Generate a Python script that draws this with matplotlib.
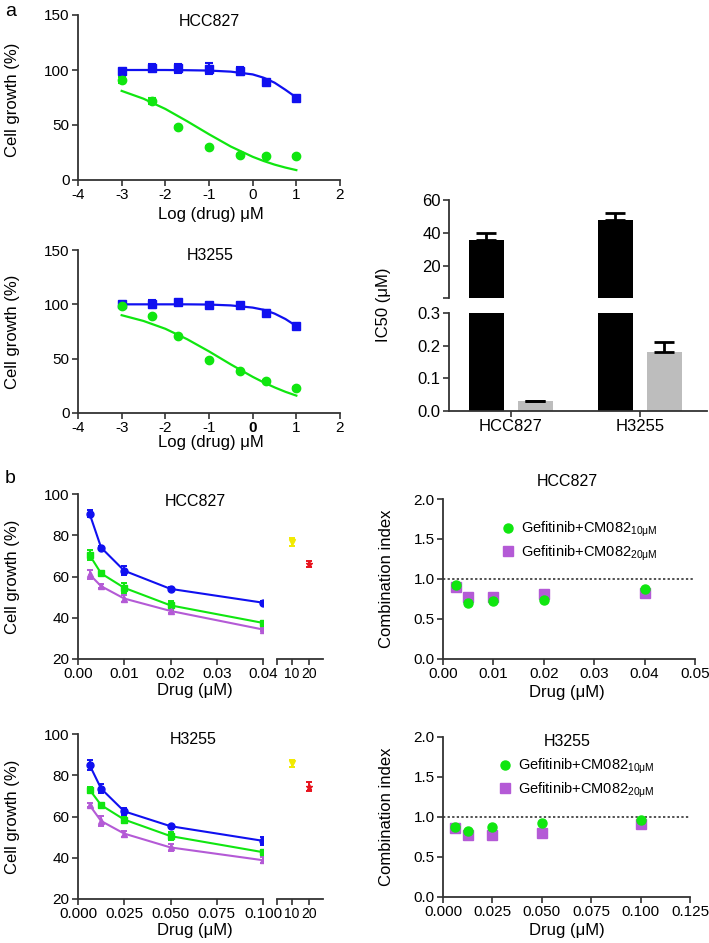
import matplotlib
matplotlib.use("Agg")
import matplotlib.pyplot as plt
import numpy as np

plt.rcParams['font.family'] = ['Liberation Sans', 'DejaVu Sans']
plt.rcParams['mathtext.fontset'] = 'custom'
plt.rcParams['mathtext.rm'] = 'Liberation Sans'
plt.rcParams['mathtext.it'] = 'Liberation Sans'
plt.rcParams['axes.unicode_minus'] = False

# ---------------- data ----------------
# Panel a: dose response (log10 drug, µM)
log_dose = [-3, -2.3, -1.7, -1, -0.3, 0.3, 1]
hcc_blue = [99.5, 102, 101.5, 101, 99, 89.5, 74.4]
hcc_blue_err = [1.5, 3, 4, 5, 3.5, 1.5, 1]
hcc_green = [91, 72, 48, 30, 22.7, 22, 21.5]
hcc_green_err = [3, 2.5, 1, 1, 1, 1, 1]
h3_blue = [100, 100.5, 102, 99.5, 99.5, 92, 80]
h3_blue_err = [1, 3.5, 1.5, 1, 1, 3, 1.5]
h3_green = [98.5, 89, 70.5, 49, 39, 29.5, 23]
h3_green_err = [1, 1, 1, 1, 1, 1, 1]

# fitted curves
curve_x = [-3, -2.5, -2, -1.5, -1, -0.5, 0, 0.25, 0.5, 0.75, 1]
hcc_blue_fit = [100, 100, 100, 99.8, 99.5, 98.5, 96, 93, 88.5, 82, 75]
hcc_green_fit = [81, 73.9, 64.6, 53.4, 41.6, 30.4, 21.1, 17.3, 14, 11.3, 9]
h3_blue_fit = [100, 100, 100, 100, 99.8, 99, 97, 95, 91.5, 86.5, 80]
h3_green_fit = [90, 84.7, 77.5, 67.9, 56.7, 44.7, 33.3, 28.2, 23.6, 19.5, 16]

# IC50 bars
ic50_cells = ['HCC827', 'H3255']
ic50_black = [36, 48]
ic50_black_err = [4, 4]
ic50_gray = [0.030, 0.182]
ic50_gray_err = [0.002, 0.028]

# Panel b: HCC827 combination
hcc_dose = [0.0025, 0.005, 0.01, 0.02, 0.04]
hcc_gef = [90.5, 74, 62.8, 54, 47.3]
hcc_gef_err = [1.8, 0.8, 2.2, 0.8, 0.8]
hcc_c10 = [70.4, 61.5, 54.5, 46, 37.5]
hcc_c10_err = [2.5, 1, 2.5, 2, 1]
hcc_c20 = [61, 55.3, 49.3, 43.3, 34.3]
hcc_c20_err = [2, 1, 1.5, 1, 0.8]
cm_dose = [10, 20]
hcc_cm = [76.7, 66]
hcc_cm_err = [2, 1.5]

# Panel b: H3255 combination
h3_dose = [0.00625, 0.0125, 0.025, 0.05, 0.1]
h3_gef = [85, 73.5, 62.5, 55.3, 48.2]
h3_gef_err = [2.5, 2.2, 1.8, 0.8, 1.8]
h3_c10 = [73, 65.5, 58.5, 50.5, 42.7]
h3_c10_err = [1.5, 1, 1.5, 1.8, 1]
h3_c20 = [65.5, 57.8, 51.7, 45, 38.8]
h3_c20_err = [1, 2.3, 1.5, 1.8, 1.5]
h3_cm = [85.7, 74.5]
h3_cm_err = [1.8, 2]

# Combination index
hcc_ci10 = [0.93, 0.70, 0.72, 0.74, 0.88]
hcc_ci20 = [0.90, 0.77, 0.77, 0.81, 0.83]
h3_ci10 = [0.87, 0.83, 0.87, 0.92, 0.96]
h3_ci20 = [0.86, 0.77, 0.77, 0.80, 0.91]

BLUE = '#1010f0'
GREEN = '#10e610'
PURPLE = '#b45ad6'
YELLOW = '#f2ea00'
RED = '#e8141e'
AX = '#333333'
TFS = 11     # tick labels
LFS = 12     # axis labels
HFS = 11.5   # titles

W, H = 709, 943
fig = plt.figure(figsize=(W / 100, H / 100), dpi=100)


def fx(px):
    return px / W


def fy(py):
    return 1 - py / H


def add_ax(l, t, r, b):
    return fig.add_axes([l / W, 1 - b / H, (r - l) / W, (b - t) / H])


def style(ax, left=True, bottom=True, fs=TFS):
    for s in ['top', 'right']:
        ax.spines[s].set_visible(False)
    ax.spines['left'].set_visible(left)
    ax.spines['bottom'].set_visible(bottom)
    for s in ['left', 'bottom']:
        ax.spines[s].set_linewidth(1.3)
        ax.spines[s].set_color(AX)
    ax.tick_params(direction='out', length=4, width=1.2, color=AX,
                   labelsize=fs, pad=2)
    ax.set_facecolor('none')


def put_labels(ax, xlab, ylab, xl_xy, yl_xy):
    ax.set_xlabel(xlab, fontsize=LFS)
    ax.set_ylabel(ylab, fontsize=LFS)
    ax.xaxis.set_label_coords(fx(xl_xy[0]), fy(xl_xy[1]),
                              transform=fig.transFigure)
    ax.yaxis.set_label_coords(fx(yl_xy[0]), fy(yl_xy[1]),
                              transform=fig.transFigure)
    ax.xaxis.label.set_va('center')
    ax.yaxis.label.set_va('center')


# ---------------- panel a dose-response ----------------
def dose_panel(ax, blue, blue_err, green, green_err, bfit, gfit):
    style(ax)
    ax.plot(curve_x, bfit, color=BLUE, lw=1.6, zorder=2)
    ax.plot(curve_x, gfit, color=GREEN, lw=1.6, zorder=2)
    ax.errorbar(log_dose, blue, yerr=blue_err, fmt='s', color=BLUE, ms=6,
                capsize=3, elinewidth=1.5, capthick=1.5, zorder=3)
    ax.errorbar(log_dose, green, yerr=green_err, fmt='o', color=GREEN, ms=6,
                capsize=3, elinewidth=1.5, capthick=1.5, zorder=3)
    ax.set_xlim(-4, 2)
    ax.set_ylim(0, 150)
    ax.set_xticks([-4, -3, -2, -1, 0, 1, 2])
    ax.set_yticks([0, 50, 100, 150])


a1 = add_ax(78, 15, 340, 180)
dose_panel(a1, hcc_blue, hcc_blue_err, hcc_green, hcc_green_err,
           hcc_blue_fit, hcc_green_fit)
put_labels(a1, 'Log (drug) μM', 'Cell growth (%)', (211, 214), (12, 100))
fig.text(fx(209), fy(21), 'HCC827', ha='center', va='center', fontsize=HFS)

a2 = add_ax(78, 250, 340, 413)
dose_panel(a2, h3_blue, h3_blue_err, h3_green, h3_green_err,
           h3_blue_fit, h3_green_fit)
put_labels(a2, 'Log (drug) μM', 'Cell growth (%)', (211, 443), (12, 332))
fig.text(fx(210), fy(255), 'H3255', ha='center', va='center', fontsize=HFS)
for lab in a2.get_xticklabels():
    if lab.get_text() == '0':
        lab.set_fontweight('bold')

# ---------------- IC50 broken bar chart ----------------
xpos = np.arange(len(ic50_cells))
off, bw = 0.19, 0.27
bu = add_ax(449, 200, 707, 298)
bl = add_ax(449, 313, 707, 411)
for ax in (bu, bl):
    ax.bar(xpos - off, ic50_black, bw, color='black', zorder=2)
    ax.bar(xpos + off, ic50_gray, bw, color='#bdbdbd', zorder=2)
    ax.set_xlim(-0.48, 1.52)
style(bu, bottom=False, fs=12)
style(bl, fs=12)
bu.errorbar(xpos - off, ic50_black, yerr=[[0, 0], ic50_black_err], fmt='none',
            ecolor='black', capsize=7, elinewidth=2, capthick=2, zorder=3)
bl.errorbar(xpos + off, ic50_gray, yerr=[[0, 0], ic50_gray_err], fmt='none',
            ecolor='black', capsize=7, elinewidth=2, capthick=2, zorder=3)
bu.set_ylim(0.5, 60)
bu.set_yticks([0.5, 20, 40, 60])
bu.set_yticklabels(['', '20', '40', '60'])
bu.set_xticks([])
bl.set_ylim(0, 0.3)
bl.set_yticks([0, 0.1, 0.2, 0.3])
bl.set_yticklabels(['0.0', '0.1', '0.2', '0.3'])
bl.set_xticks(xpos)
bl.set_xticklabels(ic50_cells)
fig.text(fx(383), fy(305), 'IC50 (μM)', rotation=90, ha='center',
         va='center', fontsize=LFS)


# ---------------- panel b combination curves ----------------
def combo_panel(t, b, dose, gef, gef_e, c10, c10_e, c20, c20_e,
                cm, cm_e, xt, xtl, xl_y):
    ax = add_ax(78, t, 263, b)
    style(ax)
    kw = dict(capsize=2.5, elinewidth=1.4, capthick=1.4, lw=1.5, zorder=3)
    ax.errorbar(dose, gef, yerr=gef_e, fmt='-o', color=BLUE, ms=5, **kw)
    ax.errorbar(dose, c10, yerr=c10_e, fmt='-s', color=GREEN, ms=5, **kw)
    ax.errorbar(dose, c20, yerr=c20_e, fmt='-^', color=PURPLE, ms=5, **kw)
    ax.set_xlim(0, xt[-1])
    ax.set_ylim(20, 100)
    ax.set_yticks([20, 40, 60, 80, 100])
    ax.set_xticks(xt)
    ax.set_xticklabels(xtl)
    put_labels(ax, 'Drug (μM)', 'Cell growth (%)', (195, xl_y),
               (12, (t + b) / 2))
    ax2 = add_ax(277, t, 323, b)
    style(ax2, left=False, fs=10)
    ax2.errorbar(cm_dose[0], cm[0], yerr=cm_e[0], fmt='v', color=YELLOW,
                 ms=5, capsize=2.5, elinewidth=1.4, capthick=1.4)
    ax2.errorbar(cm_dose[1], cm[1], yerr=cm_e[1], fmt='*', color=RED,
                 ms=5, capsize=2.5, elinewidth=1.4, capthick=1.4)
    ax2.set_xlim(1.2, 28.2)
    ax2.set_ylim(20, 100)
    ax2.set_yticks([])
    ax2.set_xticks([1.2, 10, 20])
    ax2.set_xticklabels(['', '10', '20'])
    return ax


combo_panel(494, 659, hcc_dose, hcc_gef, hcc_gef_err, hcc_c10,
            hcc_c10_err, hcc_c20, hcc_c20_err, hcc_cm, hcc_cm_err,
            [0, 0.01, 0.02, 0.03, 0.04],
            ['0.00', '0.01', '0.02', '0.03', '0.04'], 691)
fig.text(fx(195), fy(502), 'HCC827', ha='center', va='center', fontsize=HFS)
combo_panel(734, 899, h3_dose, h3_gef, h3_gef_err, h3_c10,
            h3_c10_err, h3_c20, h3_c20_err, h3_cm, h3_cm_err,
            [0, 0.025, 0.05, 0.075, 0.1],
            ['0.000', '0.025', '0.050', '0.075', '0.100'], 931)
fig.text(fx(193), fy(739), 'H3255', ha='center', va='center', fontsize=HFS)


# ---------------- combination index ----------------
def ci_panel(t, b, r, dose, ci10, ci20, xmax, xt, xtl, title,
             title_y, leg_anchor):
    ax = add_ax(443, t, r, b)
    style(ax)
    ax.axhline(1.0, color='#222222', lw=1.1, ls=(0, (1.5, 1.5)), zorder=1)
    ax.plot(dose, ci20, 's', color=PURPLE, ms=6.5, zorder=2,
            label='Gefitinib+CM082$_{\\mathrm{20μM}}$')
    ax.plot(dose, ci10, 'o', color=GREEN, ms=6.5, zorder=3,
            label='Gefitinib+CM082$_{\\mathrm{10μM}}$')
    ax.set_xlim(0, xmax)
    ax.set_ylim(0, 2.0)
    ax.set_yticks([0, 0.5, 1.0, 1.5, 2.0])
    ax.set_yticklabels(['0.0', '0.5', '1.0', '1.5', '2.0'])
    ax.set_xticks(xt)
    ax.set_xticklabels(xtl)
    put_labels(ax, 'Drug (μM)', 'Combination index', (567, b + 33),
               (386, (t + b) / 2))
    h, l = ax.get_legend_handles_labels()
    ax.legend(h[::-1], l[::-1], loc='upper left',
              bbox_to_anchor=(fx(leg_anchor[0]), fy(leg_anchor[1])),
              bbox_transform=fig.transFigure,
              frameon=False, fontsize=10.5, handlelength=0.8,
              handletextpad=0.5, labelspacing=0.3, borderpad=0,
              borderaxespad=0)
    fig.text(fx(567), fy(title_y), title, ha='center', va='center',
             fontsize=HFS)
    return ax


ci_panel(499, 659, 695, hcc_dose, hcc_ci10, hcc_ci20, 0.05,
         [0, 0.01, 0.02, 0.03, 0.04, 0.05],
         ['0.00', '0.01', '0.02', '0.03', '0.04', '0.05'],
         'HCC827', 482, (502, 520))
ci_panel(737, 897, 690, h3_dose, h3_ci10, h3_ci20, 0.125,
         [0, 0.025, 0.05, 0.075, 0.1, 0.125],
         ['0.000', '0.025', '0.050', '0.075', '0.100', '0.125'],
         'H3255', 742, (499, 757))

fig.text(fx(5), fy(12), 'a', fontsize=14, ha='left', va='center')
fig.text(fx(5), fy(478), 'b', fontsize=14, ha='left', va='center')

fig.savefig('out.png', dpi=100)
